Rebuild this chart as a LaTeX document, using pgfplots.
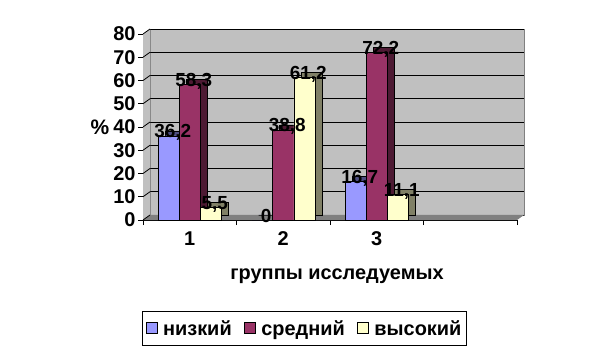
\documentclass[border=0pt]{standalone}
\usepackage{pgfplots}
\usepackage{pgfplotstable}
\pgfplotsset{compat=1.18}
\usepackage{fontspec}
\setmainfont{Liberation Sans}
\definecolor{cLow}{HTML}{9999FF}
\definecolor{cMid}{HTML}{993366}
\definecolor{cHigh}{HTML}{FFFFCC}
\definecolor{sLow}{HTML}{4D4D80}
\definecolor{sMid}{HTML}{4D1A33}
\definecolor{sHigh}{HTML}{808066}
\definecolor{wallc}{HTML}{C0C0C0}
\definecolor{floorc}{HTML}{808080}

\pgfplotstableread{
g low mid high
1 36.2 58.3 5.5
2 0 38.8 61.2
3 16.7 72.2 11.1
}\data

\begin{document}
\begin{tikzpicture}[font=\bfseries\fontsize{19}{21}\selectfont]
\useasboundingbox (0,0) rectangle (607bp,354bp);
\begin{axis}[
 scale only axis, width=374bp, height=186bp,
 at={(150bp,139bp)}, anchor=south west,
 xmin=0.5, xmax=4.5, ymin=0, ymax=80,
 ytick={0,10,...,80},
 xtick={0.5,1.5,2.5,3.5,4.5}, xticklabels={},
 extra x ticks={1,2,3}, extra x tick labels={1,2,3},
 extra x tick style={major tick length=0pt, grid=none, xticklabel style={yshift=-8bp}},
 ymajorgrids,
 major grid style={black, line width=0.8pt, xshift=7bp, yshift=5bp},
 axis background/.style={fill=wallc, draw=floorc, xshift=7bp, yshift=5bp},
 axis lines*=left,
 axis line style={black, line width=0.8pt},
 tick style={black, line width=0.8pt},
 tick align=outside, major tick length=5bp,
 clip=false,
 /pgf/number format/assume math mode=true,
 /pgf/number format/use comma,
 tick label style={font=\bfseries\fontsize{20}{22}\selectfont},
 yticklabel style={xshift=1bp},
 xlabel={группы исследуемых},
 xlabel style={at={(axis description cs:0.5,-0.327)}, anchor=center, font=\bfseries\fontsize{20}{22}\selectfont},
 ylabel={\%},
 ylabel style={rotate=-90, at={(axis description cs:0,0.5)}, xshift=-50bp, yshift=-5bp, anchor=center, font=\bfseries\fontsize{21}{23}\selectfont},
 legend style={at={(0.413,-0.515)}, anchor=north, draw=black, line width=0.8pt,
   font=\bfseries\fontsize{20}{22}\selectfont, legend columns=3,
   inner xsep=3bp, inner ysep=7bp,
   /tikz/every odd column/.append style={column sep=4bp},
   /tikz/every even column/.append style={column sep=10bp}},
 legend image code/.code={\draw[#1, draw=black, line width=0.6pt] (0bp,-5bp) rectangle (11bp,6bp);},
]
\fill[wallc] (rel axis cs:0,0) -- (rel axis cs:0,1) -- ([shift={(7bp,5bp)}]rel axis cs:0,1) -- ([shift={(7bp,5bp)}]rel axis cs:0,0) -- cycle;
\fill[floorc] (rel axis cs:0,0) -- (rel axis cs:1,0) -- ([shift={(7bp,5bp)}]rel axis cs:1,0) -- ([shift={(7bp,5bp)}]rel axis cs:0,0) -- cycle;
\pgfplotsinvokeforeach{0,10,20,30,40,50,60,70,80}{
 \draw[black, line width=0.8pt] (axis cs:0.5,#1) -- ++(7bp,5bp);
}
% back faces (depth)
\addplot[ybar, bar width=0.225, bar shift=-0.15, fill=sLow, draw=black, line width=0.5pt, yshift=5bp, forget plot] table[x=g,y=low]{\data};
\addplot[ybar, bar width=0.225, bar shift=0.075, fill=sMid, draw=black, line width=0.5pt, yshift=5bp, forget plot] table[x=g,y=mid]{\data};
\addplot[ybar, bar width=0.225, bar shift=0.3, fill=sHigh, draw=black, line width=0.5pt, yshift=5bp, forget plot] table[x=g,y=high]{\data};
% front faces
\addplot[ybar, bar width=0.225, bar shift=-0.225, fill=cLow, draw=black, line width=0.5pt] table[x=g,y=low]{\data};
\addlegendentry{низкий}
\addplot[ybar, bar width=0.225, bar shift=0, fill=cMid, draw=black, line width=0.5pt] table[x=g,y=mid]{\data};
\addlegendentry{средний}
\addplot[ybar, bar width=0.225, bar shift=0.225, fill=cHigh, draw=black, line width=0.5pt] table[x=g,y=high]{\data};
\addlegendentry{высокий}
% labels on top
\addplot[ybar, bar width=0.225, bar shift=0, draw=none, fill=none, forget plot,
  nodes near coords, every node near coord/.append style={anchor=base, yshift=-2bp, xshift=-17bp, black, inner sep=0pt, font=\bfseries\fontsize{19}{21}\selectfont}] table[x=g,y=low]{\data};
\addplot[ybar, bar width=0.225, bar shift=0, draw=none, fill=none, forget plot,
  nodes near coords, every node near coord/.append style={anchor=base, yshift=-2bp, xshift=4bp, black, inner sep=0pt, font=\bfseries\fontsize{19}{21}\selectfont}] table[x=g,y=mid]{\data};
\addplot[ybar, bar width=0.225, bar shift=0, draw=none, fill=none, forget plot,
  nodes near coords, every node near coord/.append style={anchor=base, yshift=-2bp, xshift=25bp, black, inner sep=0pt, font=\bfseries\fontsize{19}{21}\selectfont}] table[x=g,y=high]{\data};
\end{axis}
\end{tikzpicture}
\end{document}
